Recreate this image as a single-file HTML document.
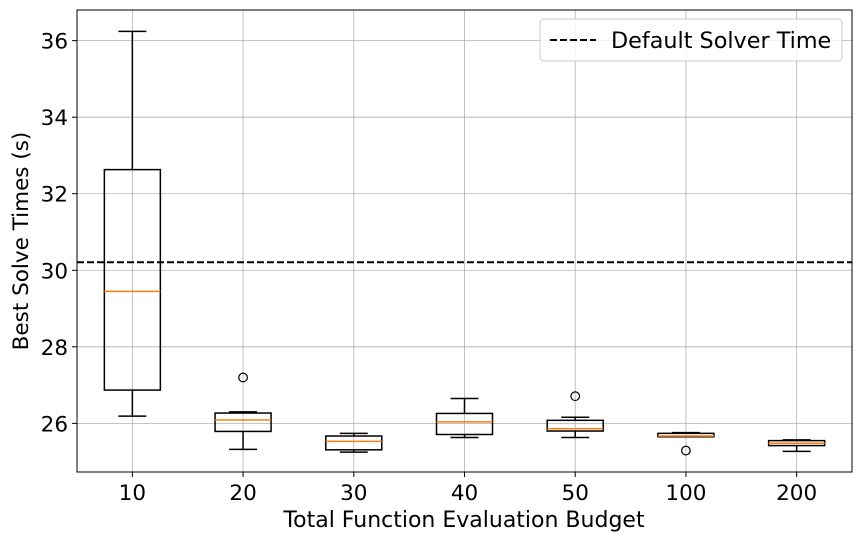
<!DOCTYPE html>
<html><head><meta charset="utf-8"><style>
html,body{margin:0;padding:0;background:#fff;}
svg text{font-family:"DejaVu Sans","Liberation Sans",sans-serif;fill:#000;}
</style></head><body>
<svg id="chart" width="861" height="543" viewBox="0 0 861 543" xmlns="http://www.w3.org/2000/svg">
<g id="grid"></g>
<g id="marks"></g>
<rect x="77" y="10" width="775" height="462" fill="none" stroke="#000" stroke-width="1"/>
<g id="axes"></g>
<text x="464" y="527" font-size="22" text-anchor="middle">Total Function Evaluation Budget</text>
<text transform="translate(28,241) rotate(-90)" font-size="21.5" text-anchor="middle">Best Solve Times (s)</text>
<g>
<rect x="540" y="19" width="302" height="42" rx="4" fill="#fff" fill-opacity="0.8" stroke="#ccc"/>
<line x1="550" y1="40" x2="596" y2="40" stroke="#000" stroke-width="2" stroke-dasharray="7,3"/>
<text x="611" y="48" font-size="22.3">Default Solver Time</text>
</g>
</svg>
<script>
const categories = ["10","20","30","40","50","100","200"];
const whiskerLow = [26.19,25.32,25.25,25.63,25.63,25.65,25.27];
const q1 = [26.87,25.79,25.31,25.71,25.80,25.65,25.42];
const medians = [29.45,26.09,25.53,26.04,25.86,25.67,25.48];
const q3 = [32.63,26.27,25.67,26.26,26.08,25.74,25.55];
const whiskerHigh = [36.24,26.30,25.74,26.65,26.16,25.76,25.57];
const outliers = [[],[27.2],[],[],[26.71],[25.29],[]];
const defaultTime = 30.21;
const yTicks = [26,28,30,32,34,36];

const L=77,R=852,T=10,B=472,yMin=24.73,yMax=36.80;
const NS="http://www.w3.org/2000/svg";
const xs=i=>L+(R-L)/categories.length*(i+0.5);
const ys=v=>B-(v-yMin)/(yMax-yMin)*(B-T);
function mk(parent,tag,attrs){const e=document.createElementNS(NS,tag);for(const k in attrs)e.setAttribute(k,attrs[k]);parent.appendChild(e);return e;}
const grid=document.getElementById('grid'),marks=document.getElementById('marks'),axes=document.getElementById('axes');
yTicks.forEach(t=>{const y=ys(t);
 const g=mk(grid,'line',{x1:L,x2:R,y1:y,y2:y,stroke:'#b0b0b0','stroke-width':0.8});
 
 
 const tk=mk(axes,'line',{x1:L-5,x2:L,y1:y,y2:y,stroke:'#000'});
 
 
 const tx=mk(axes,'text',{x:L-9,y:y+8,'font-size':21.5,'text-anchor':'end'});tx.textContent=t;
 
 
});
categories.forEach((c,i)=>{const x=xs(i);
 const g=mk(grid,'line',{x1:x,x2:x,y1:T,y2:B,stroke:'#b0b0b0','stroke-width':0.8});
 
 
 const tk=mk(axes,'line',{x1:x,x2:x,y1:B,y2:B+5,stroke:'#000'});
 
 
 const tx=mk(axes,'text',{x:x,y:B+28,'font-size':21.5,'text-anchor':'middle'});tx.textContent=c;
 
 
 const grp=mk(marks,'g',{});
 
 
 const hw=28,cw=14,st={stroke:'#000','stroke-width':1.5,fill:'none'};
 mk(grp,'line',Object.assign({x1:x,x2:x,y1:ys(whiskerLow[i]),y2:ys(q1[i])},st));
 mk(grp,'line',Object.assign({x1:x,x2:x,y1:ys(q3[i]),y2:ys(whiskerHigh[i])},st));
 mk(grp,'line',Object.assign({x1:x-cw,x2:x+cw,y1:ys(whiskerLow[i]),y2:ys(whiskerLow[i])},st));
 mk(grp,'line',Object.assign({x1:x-cw,x2:x+cw,y1:ys(whiskerHigh[i]),y2:ys(whiskerHigh[i])},st));
 mk(grp,'rect',Object.assign({x:x-hw,y:ys(q3[i]),width:2*hw,height:Math.max(ys(q1[i])-ys(q3[i]),0.5)},st));
 mk(grp,'line',{x1:x-hw,x2:x+hw,y1:ys(medians[i]),y2:ys(medians[i]),stroke:'#ff7f0e','stroke-width':1.5});
 outliers[i].forEach(o=>{const ci=mk(grp,'circle',{cx:x,cy:ys(o),r:4.3,fill:'none',stroke:'#000','stroke-width':1.2});
  
  });
});
const dl=mk(marks,'line',{x1:L,x2:R,y1:ys(defaultTime),y2:ys(defaultTime),stroke:'#000','stroke-width':2,'stroke-dasharray':'7,3'});


</script>
</body></html>
